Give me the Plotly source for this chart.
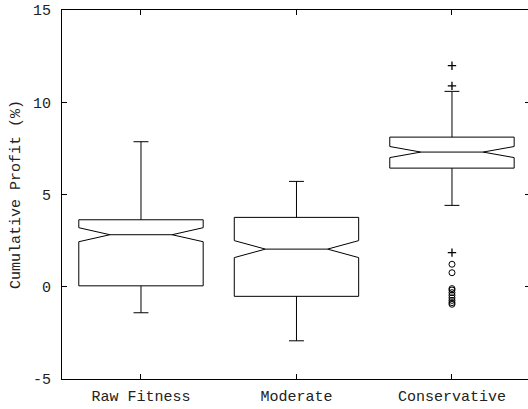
import plotly.graph_objects as go

categories = ["Raw Fitness", "Moderate", "Conservative"]
q1 = [0.05, -0.52, 6.43]
medians = [2.82, 2.04, 7.30]
q3 = [3.63, 3.76, 8.11]
lower_whisker = [-1.41, -2.93, 4.41]
upper_whisker = [7.86, 5.71, 10.59]
notch_half = [0.38, 0.46, 0.30]

plus_outliers = [11.98, 10.89, 1.85]
circle_outliers = [1.22, 0.76, -0.10, -0.18, -0.32, -0.46, -0.60, -0.74, -0.86, -0.95]

y_ticks = [-5, 0, 5, 10, 15]
y_tick_text = ["-5", "0", "5", "10", "15"]

FONT = "Liberation Mono"

fig = go.Figure()
fig.add_trace(go.Box(
    x=categories, q1=q1, median=medians, q3=q3,
    lowerfence=lower_whisker, upperfence=upper_whisker,
    notchspan=notch_half, notched=True, notchwidth=0.25,
    boxpoints=False, width=0.8, whiskerwidth=0.12,
    line=dict(color="black", width=1), fillcolor="rgba(0,0,0,0)",
    showlegend=False, hoverinfo="skip",
))
fig.add_trace(go.Scatter(
    x=["Conservative"] * len(plus_outliers), y=plus_outliers, mode="markers",
    marker=dict(symbol="cross-thin-open", size=6, color="black", line=dict(color="black", width=1.3)),
    showlegend=False,
))
fig.add_trace(go.Scatter(
    x=["Conservative"] * len(circle_outliers), y=circle_outliers, mode="markers",
    marker=dict(symbol="circle-open", size=6, color="black", line=dict(color="black", width=1)),
    showlegend=False,
))
fig.add_trace(go.Scatter(x=[], y=[], yaxis="y2", showlegend=False))

fig.update_layout(
    width=528, height=409,
    margin=dict(l=62, r=0, t=10, b=30),
    paper_bgcolor="white", plot_bgcolor="white",
    font=dict(family=FONT, size=15, color="#222"),
    xaxis=dict(
        type="category", categoryorder="array", categoryarray=categories,
        range=[-0.508, 2.489],
        showline=True, linecolor="black", linewidth=1, mirror="ticks",
        ticks="inside", ticklen=5, tickcolor="black",
        showgrid=False, zeroline=False, ticklabelstandoff=3,
        tickfont=dict(family=FONT, size=15, color="#222"),
    ),
    yaxis=dict(
        range=[-5, 15], tickvals=y_ticks, ticktext=y_tick_text,
        showline=True, linecolor="black", linewidth=1, mirror=False,
        ticks="inside", ticklen=5, tickcolor="black",
        showgrid=False, zeroline=False, ticklabelstandoff=7,
        title=dict(text="Cumulative Profit (%)", font=dict(family=FONT, size=15, color="#222"), standoff=8),
        tickfont=dict(family=FONT, size=15, color="#222"),
    ),
    yaxis2=dict(
        overlaying="y", side="right", matches="y", range=[-5, 15],
        tickvals=y_ticks, showticklabels=False, showline=False,
        ticks="inside", ticklen=3, tickcolor="black",
        showgrid=False, zeroline=False,
    ),
)

fig.write_html("out.html")
